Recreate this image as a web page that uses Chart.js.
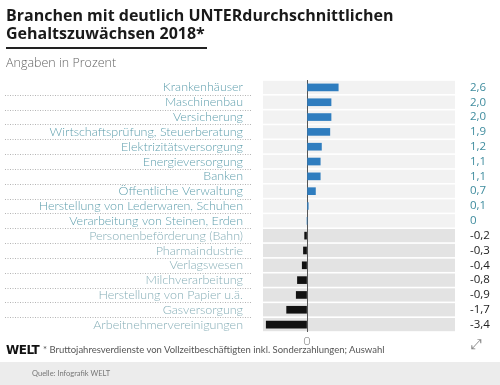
<!DOCTYPE html>
<html>
<head>
    <meta charset="utf-8">
    <title>Branchen mit deutlich UNTERdurchschnittlichen Gehaltszuwächsen 2018</title>
    <script src="https://cdn.jsdelivr.net/npm/chart.js"></script>
    <style>
        body {
            margin: 0;
            padding: 0;
            background: #fff;
            font-family: Lato, sans-serif;
        }
        .page {
            position: relative;
            width: 500px;
            height: 385px;
            overflow: hidden;
        }
        .chart-box {
            position: absolute;
            left: 0;
            top: 0;
            width: 500px;
            height: 385px;
        }
        .title {
            position: absolute;
            left: 6px;
            top: 6px;
            font-family: "Open Sans", sans-serif;
            font-size: 16px;
            font-weight: 700;
            line-height: 18px;
            letter-spacing: 0;
            color: #1a1a1a;
        }
        .rule {
            position: absolute;
            left: 6px;
            top: 47px;
            width: 201px;
            height: 2px;
            background: #222;
        }
        .subtitle {
            position: absolute;
            left: 6px;
            top: 54px;
            font-family: "Open Sans", sans-serif;
            font-size: 12.5px;
            font-weight: 300;
            color: #666;
        }
        .logo {
            position: absolute;
            left: 6px;
            top: 343px;
            font-size: 12px;
            font-weight: 900;
            font-family: "DejaVu Sans", sans-serif;
            letter-spacing: -0.5px;
            color: #111;
        }
        .note {
            position: absolute;
            left: 43px;
            top: 344px;
            font-size: 9.5px;
            color: #555;
        }
        .icon {
            position: absolute;
            left: 471px;
            top: 336px;
            font-size: 14px;
            color: #888;
            font-family: "DejaVu Sans", sans-serif;
        }
        .footer {
            position: absolute;
            left: 0;
            top: 362px;
            width: 500px;
            height: 23px;
            background: #ececec;
        }
        .footer span {
            position: absolute;
            left: 32px;
            top: 7px;
            font-size: 7.5px;
            color: #777;
        }
    </style>
</head>
<body>
    <div class="page">
        <div class="chart-box">
            <canvas id="barGraph"></canvas>
        </div>
        <div class="title">Branchen mit deutlich UNTERdurchschnittlichen<br>Gehaltszuwächsen 2018*</div>
        <div class="rule"></div>
        <div class="subtitle">Angaben in Prozent</div>
        <div class="logo">WELT</div>
        <div class="note">* Bruttojahresverdienste von Vollzeitbeschäftigten inkl. Sonderzahlungen; Auswahl</div>
        <div class="icon">⤢</div>
        <div class="footer"><span>Quelle: Infografik WELT</span></div>
    </div>

    <script>
        const categories = [
            'Krankenhäuser',
            'Maschinenbau',
            'Versicherung',
            'Wirtschaftsprüfung, Steuerberatung',
            'Elektrizitätsversorgung',
            'Energieversorgung',
            'Banken',
            'Öffentliche Verwaltung',
            'Herstellung von Lederwaren, Schuhen',
            'Verarbeitung von Steinen, Erden',
            'Personenbeförderung (Bahn)',
            'Pharmaindustrie',
            'Verlagswesen',
            'Milchverarbeitung',
            'Herstellung von Papier u.ä.',
            'Gasversorgung',
            'Arbeitnehmervereinigungen'
        ];
        const values = [2.6, 2.0, 2.0, 1.9, 1.2, 1.1, 1.1, 0.7, 0.1, 0, -0.2, -0.3, -0.4, -0.8, -0.9, -1.7, -3.4];
        const xTicks = [0];

        // value labels for the right-hand axis, German decimal comma
        const valueLabels = values.map(v => v === 0 ? '0' : v.toFixed(1).replace('.', ','));

        // grey row bands and the dotted leader lines on the left
        const rowBands = {
            id: 'rowBands',
            beforeDraw(chart) {
                const ctx = chart.ctx;
                const area = chart.chartArea;
                const y = chart.scales.y;
                const step = (area.bottom - area.top) / categories.length;
                ctx.save();
                categories.forEach((c, i) => {
                    const cy = y.getPixelForValue(i);
                    ctx.fillStyle = values[i] < 0 ? '#e3e3e3' : '#f2f2f2';
                    ctx.fillRect(area.left, cy - step / 2 + 0.8, area.right - area.left, step - 1.6);
                    if (i < categories.length - 1) {
                        ctx.strokeStyle = '#b5b5b5';
                        ctx.lineWidth = 1;
                        ctx.setLineDash([1, 1.5]);
                        ctx.beginPath();
                        ctx.moveTo(5, Math.round(cy + step / 2) + 0.5);
                        ctx.lineTo(252, Math.round(cy + step / 2) + 0.5);
                        ctx.stroke();
                    }
                });
                ctx.restore();
            }
        };

        const barChart = new Chart(document.getElementById('barGraph').getContext('2d'), {
            type: 'bar',
            data: {
                labels: categories,
                datasets: [{
                    data: values,
                    backgroundColor: values.map(v => v < 0 ? '#111111' : '#2f7dbf'),
                    barThickness: 7,
                    yAxisID: 'y'
                }]
            },
            options: {
                indexAxis: 'y',
                responsive: true,
                maintainAspectRatio: false,
                animation: false,
                layout: { padding: { top: 80, left: 0, right: 0, bottom: 0 } },
                plugins: {
                    legend: { display: false },
                    tooltip: { enabled: false }
                },
                scales: {
                    x: {
                        min: -3.67,
                        max: 12.33,
                        afterBuildTicks: s => { s.ticks = xTicks.map(v => ({ value: v })); },
                        afterFit: s => { s.height = 53; },
                        grid: {
                            color: c => c.tick && c.tick.value === 0 ? '#555' : 'transparent',
                            lineWidth: 1,
                            drawTicks: false
                        },
                        border: { display: false },
                        ticks: {
                            padding: 2,
                            color: '#777',
                            font: { family: 'Lato', size: 12, weight: 300 }
                        }
                    },
                    y: {
                        position: 'left',
                        afterFit: s => { s.width = 263; },
                        grid: { display: false },
                        border: { display: false },
                        ticks: {
                            padding: 12,
                            autoSkip: false,
                            color: c => values[c.index] < 0 ? '#86aeb7' : '#5f9fad',
                            font: { family: 'Lato', size: 12.5, weight: 300 }
                        }
                    },
                    y2: {
                        type: 'category',
                        labels: valueLabels,
                        position: 'right',
                        offset: true,
                        afterFit: s => { s.width = 45; },
                        grid: { display: false },
                        border: { display: false },
                        ticks: {
                            padding: 7,
                            autoSkip: false,
                            color: c => values[c.index] < 0 ? '#222' : '#3f8c9e',
                            font: { family: 'Open Sans', size: 11.5 }
                        }
                    }
                }
            },
            plugins: [rowBands]
        });
    </script>
</body>
</html>
